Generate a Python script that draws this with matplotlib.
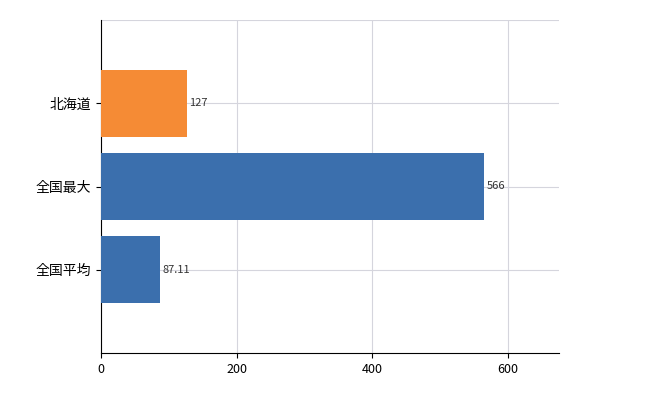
import matplotlib
matplotlib.use("Agg")
import matplotlib.pyplot as plt

plt.rcParams['font.family'] = ['Noto Sans CJK JP', 'DejaVu Sans']

categories = ["全国平均", "全国最大", "北海道"]
values = [87.11, 566, 127]
labels = ["87.11", "566", "127"]
colors = ["#3b6fad", "#3b6fad", "#f58b35"]

fig = plt.figure(figsize=(6.5, 4.0), dpi=100)
ax = fig.add_axes([101/650, 1-353/400, (559-101)/650, (353-20)/400])
ypos = list(range(len(categories)))
ax.barh(ypos, values, height=0.8, color=colors, zorder=3)
for y, v, t in zip(ypos, values, labels):
    ax.text(v + 3, y, t, va='center', ha='left', fontsize=8, color='#333333', zorder=4)
ax.set_yticks(ypos)
ax.set_yticklabels(categories, fontsize=10)
ax.set_xlim(0, 676)
ax.set_ylim(-1, 3)
ax.set_xticks([0, 200, 400, 600])
ax.tick_params(axis='x', labelsize=9)
ax.grid(True, color='#d5d5dd', linewidth=0.8, zorder=0)
ax.axhline(3, color='#d5d5dd', linewidth=0.8, zorder=0)
for s in ['top', 'right']:
    ax.spines[s].set_visible(False)
ax.spines['left'].set_color('black')
ax.spines['bottom'].set_color('black')
fig.savefig("out.png", dpi=100)
